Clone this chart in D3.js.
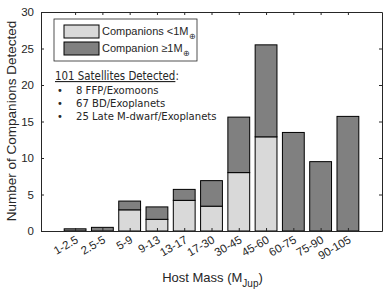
<!DOCTYPE html>
<html>
<head>
<meta charset="utf-8">
<script src="https://cdn.jsdelivr.net/npm/d3@7"></script>
<style>
  body { margin: 0; background: #fff; }
  text { font-family: "Liberation Sans", Arial, sans-serif; fill: #262626; }
  .note { font-family: "DejaVu Sans Condensed", "DejaVu Sans", sans-serif; }
</style>
</head>
<body>
<div id="chart"></div>
<script>
// host mass bins and companion counts
const categories = ["1-2.5", "2.5-5", "5-9", "9-13", "13-17", "17-30", "30-45", "45-60", "60-75", "75-90", "90-105"];
const belowEarth = [0, 0, 2.9, 1.6, 4.2, 3.4, 8.0, 12.9, 0, 0, 0];
const aboveEarth = [0.3, 0.5, 1.2, 1.7, 1.5, 3.5, 7.6, 12.6, 13.5, 9.5, 15.7];
const yTicks = [0, 5, 10, 15, 20, 25, 30];
const legendLabels = ["Companions <1M", "Companion \u22651M"];
const noteTitle = "101 Satellites Detected";
const noteLines = ["8 FFP/Exomoons", "67 BD/Exoplanets", "25 Late M-dwarf/Exoplanets"];

var margin = {top: 12, right: 8, bottom: 67, left: 41},
    width = 390 - margin.left - margin.right,
    height = 298 - margin.top - margin.bottom;

var svg = d3.select("#chart")
            .append("svg")
                .attr("width", 390)
                .attr("height", 298)
            .append("g")
                .attr("transform", "translate(" + margin.left + "," + margin.top + ")");

// bars sit at positions 1..11, axis runs a bit past both ends
var x = d3.scaleLinear()
            .domain([-0.25, 12.25])
            .range([0, width]);
var y = d3.scaleLinear()
            .domain([0, 30])
            .range([height, 0]);
const barW = x(0.8) - x(0);

const color = ["#d9d9d9", "#808080"];

var table = categories.map(function(c, i) {
    return {cat: c, idx: i + 1, below: belowEarth[i], above: aboveEarth[i]};
});
var stacked = d3.stack().keys(["below", "above"])(table);

//DRAW BARS//
svg.selectAll(".layer")
    .data(stacked)
    .enter()
    .append("g")
        .attr("fill", function(d, i) { return color[i]; })
    .selectAll("rect")
    .data(function(d) { return d; })
    .enter()
    .append("rect")
        .attr("x", function(d) { return x(d.data.idx) - barW / 2; })
        .attr("width", barW)
        .attr("y", function(d) { return y(d[1]); })
        .attr("height", function(d) { return y(d[0]) - y(d[1]); })
        .attr("stroke", "#000")
        .attr("stroke-width", 1)
        .style("display", function(d) { return d[1] - d[0] > 0 ? null : "none"; });

//AXES (matlab style box, ticks pointing in)//
const tickIdx = d3.range(1, categories.length + 1);
var xAxis = svg.append("g")
    .attr("transform", "translate(0," + height + ")")
    .call(d3.axisBottom(x).tickValues(tickIdx).tickSizeInner(-3).tickSizeOuter(0).tickFormat(""));
var xTop = svg.append("g")
    .call(d3.axisTop(x).tickValues(tickIdx).tickSizeInner(-3).tickSizeOuter(0).tickFormat(""));
var yAxis = svg.append("g")
    .call(d3.axisLeft(y).tickValues(yTicks).tickSizeInner(-3).tickSizeOuter(0).tickPadding(7));
var yRight = svg.append("g")
    .attr("transform", "translate(" + width + ",0)")
    .call(d3.axisRight(y).tickValues(yTicks).tickSizeInner(-3).tickSizeOuter(0).tickFormat(""));
[xAxis, xTop, yAxis, yRight].forEach(function(a) {
    a.selectAll("path, line").attr("stroke", "#262626");
});
yAxis.selectAll("text")
    .style("font-size", "11.5px")
    .style("font-family", "Liberation Sans, Arial, sans-serif")
    .attr("fill", "#262626");

// rotated category labels
svg.append("g")
    .selectAll("text")
    .data(categories)
    .enter()
    .append("text")
        .attr("transform", function(d, i) {
            return "translate(" + (x(i + 1) + 4) + "," + (height + 11) + ") rotate(-30)";
        })
        .style("text-anchor", "end")
        .style("font-size", "11.5px")
        .text(function(d) { return d; });

//AXIS LABELS//
var xl = svg.append("text")
    .attr("x", width / 2 + 1)
    .attr("y", height + 51)
    .style("text-anchor", "middle")
    .style("font-size", "13px");
xl.append("tspan").text("Host Mass (M");
xl.append("tspan").attr("dy", 5).style("font-size", "10px").text("Jup");
xl.append("tspan").attr("dy", -5).text(")");

svg.append("text")
    .attr("transform", "rotate(-90)")
    .attr("x", -(height / 2) + 0.5)
    .attr("y", -25)
    .style("text-anchor", "middle")
    .style("font-size", "13.5px")
    .text("Number of Companions Detected");

//LEGEND//
const legend = svg.append("g").attr("transform", "translate(13,7)");
legend.append("rect")
    .attr("width", 143)
    .attr("height", 42)
    .attr("fill", "#fff")
    .attr("stroke", "#262626")
    .attr("stroke-width", 0.8);
legend.selectAll(".sw")
    .data(legendLabels)
    .enter()
    .append("rect")
        .attr("x", 10)
        .attr("y", function(d, i) { return 6 + i * 17; })
        .attr("width", 35)
        .attr("height", 13)
        .attr("fill", function(d, i) { return color[i]; })
        .attr("stroke", "#000")
        .attr("stroke-width", 1);
legend.selectAll(".lab")
    .data(legendLabels)
    .enter()
    .append("text")
        .attr("x", 48)
        .attr("y", function(d, i) { return 16 + i * 17; })
        .style("font-size", "11px")
        .each(function(d) {
            var t = d3.select(this);
            t.append("tspan").text(d);
            t.append("tspan").attr("dy", 3.5).style("font-size", "7.5px").text("\u2295");
        });

//ANNOTATION//
const note = svg.append("g").attr("class", "note");
note.append("text")
    .attr("class", "note")
    .attr("x", 14)
    .attr("y", 68)
    .style("font-size", "11.4px")
    .call(function(t) {
        t.append("tspan").style("text-decoration", "underline").text(noteTitle);
        t.append("tspan").text(":");
    });
note.selectAll(".b")
    .data(noteLines)
    .enter()
    .append("text")
        .attr("class", "note")
        .attr("x", 16)
        .attr("y", function(d, i) { return 82 + i * 13; })
        .style("font-size", "11px")
        .text("\u2022");
note.selectAll(".l")
    .data(noteLines)
    .enter()
    .append("text")
        .attr("class", "note")
        .attr("x", 35)
        .attr("y", function(d, i) { return 82 + i * 13; })
        .style("font-size", "11.2px")
        .text(function(d) { return d; });
</script>
</body>
</html>
